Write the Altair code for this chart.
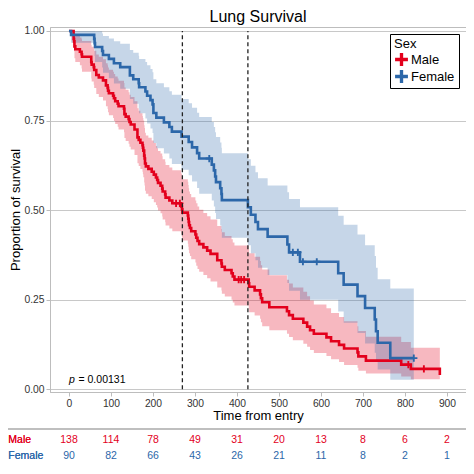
import altair as alt
import pandas as pd

RED = "#E3001C"
BLUE = "#2C67A9"
FONT = "Liberation Sans"
GRAY = "#BDBDBD"

# ---- Kaplan-Meier estimates ----
male_time = [0, 11, 12, 13, 15, 26, 30, 31, 53, 54,
             59, 60, 65, 71, 81, 88, 92, 93, 95, 105,
             107, 110, 116, 118, 131, 132, 135, 142, 144, 147,
             156, 163, 166, 170, 175, 176, 177, 179, 180, 181,
             183, 189, 197, 202, 207, 210, 212, 218, 222, 223,
             229, 230, 239, 246, 267, 269, 270, 283, 284, 285,
             286, 288, 291, 301, 303, 306, 310, 320, 329, 337,
             353, 363, 364, 371, 387, 390, 394, 428, 429, 442,
             455, 457, 460, 477, 519, 524, 533, 558, 567, 574,
             583, 613, 624, 643, 655, 687, 689, 707, 791, 814,
             883]
male_surv = [1.000, .978, .971, .957, .949, .942, .935, .928, .913, .906,
             .899, .891, .877, .870, .862, .848, .841, .833, .826, .819,
             .812, .804, .797, .790, .783, .768, .761, .754, .746, .739,
             .725, .703, .696, .688, .681, .674, .666, .652, .644, .630,
             .622, .615, .607, .599, .591, .584, .576, .568, .560, .552,
             .544, .535, .527, .519, .510, .502, .493, .485, .476, .467,
             .458, .450, .441, .432, .423, .414, .405, .396, .387, .378,
             .360, .351, .342, .333, .324, .315, .306, .296, .286, .276,
             .265, .254, .243, .229, .218, .207, .197, .186, .175, .165,
             .155, .145, .134, .124, .114, .103, .092, .080, .069, .057,
             .040]
male_lower = [1.000, .954, .943, .924, .913, .904, .895, .886, .867, .859,
              .850, .841, .824, .816, .806, .790, .782, .773, .765, .757,
              .749, .740, .733, .725, .717, .701, .693, .685, .677, .669,
              .654, .631, .623, .615, .607, .600, .592, .577, .569, .554,
              .546, .539, .531, .522, .514, .507, .499, .491, .482, .474,
              .466, .457, .449, .441, .432, .424, .415, .406, .398, .389,
              .380, .372, .363, .354, .345, .336, .328, .319, .310, .301,
              .284, .276, .267, .259, .250, .242, .234, .224, .215, .206,
              .197, .187, .176, .165, .155, .146, .137, .127, .119, .110,
              .101, .093, .084, .076, .068, .060, .052, .044, .036, .028,
              .016]
male_upper = [1.000, 1.000, .999, .992, .986, .982, .977, .972, .961, .956,
              .951, .945, .934, .928, .921, .910, .904, .898, .892, .886,
              .880, .873, .867, .861, .855, .842, .836, .829, .822, .816,
              .804, .784, .777, .770, .763, .757, .750, .737, .729, .716,
              .708, .702, .694, .687, .679, .673, .665, .658, .650, .642,
              .635, .626, .619, .611, .602, .595, .586, .579, .570, .561,
              .552, .545, .536, .527, .519, .510, .501, .492, .483, .474,
              .456, .447, .438, .428, .419, .410, .401, .390, .380, .370,
              .358, .346, .334, .318, .306, .295, .284, .272, .260, .248,
              .237, .226, .213, .202, .190, .176, .163, .147, .132, .116,
              .099]

female_time = [0, 5, 60, 61, 62, 79, 81, 95, 107, 122,
               145, 153, 166, 167, 182, 186, 194, 199, 201, 208,
               226, 239, 245, 268, 285, 293, 305, 310, 340, 345,
               348, 350, 360, 363, 364, 426, 433, 444, 450, 473,
               520, 524, 550, 641, 654, 687, 705, 728, 731, 735,
               765, 821]
female_surv = [1.000, .989, .978, .966, .955, .944, .933, .922, .910, .899,
               .876, .865, .854, .843, .831, .819, .807, .795, .771, .758,
               .745, .732, .719, .705, .690, .675, .659, .644, .627, .611,
               .594, .578, .561, .545, .528, .508, .487, .467, .447, .426,
               .404, .382, .356, .324, .292, .260, .227, .195, .162, .130,
               .087, .087]
female_lower = [1.000, .967, .948, .930, .913, .898, .883, .868, .853, .839,
                .810, .797, .784, .770, .756, .742, .728, .715, .687, .673,
                .658, .644, .629, .613, .597, .580, .562, .546, .527, .510,
                .492, .475, .457, .440, .423, .402, .380, .360, .339, .319,
                .297, .275, .250, .217, .186, .157, .128, .102, .077, .055,
                .027, .027]
female_upper = [1.000, 1.000, 1.000, 1.000, .999, .993, .986, .979, .971, .964,
                .947, .939, .931, .922, .913, .904, .894, .885, .865, .854,
                .843, .832, .822, .810, .798, .786, .772, .760, .746, .732,
                .717, .704, .689, .674, .659, .642, .624, .606, .589, .569,
                .550, .531, .508, .484, .459, .432, .402, .372, .339, .307,
                .281, .281]

# censoring marks
male_censor_time = [255, 264, 404, 410, 417, 808, 845]
male_censor_surv = [.519, .519, .306, .306, .306, .069, .057]
female_censor_time = [334, 533, 545, 557, 590, 821]
female_censor_surv = [.644, .382, .382, .356, .356, .087]

# median survival times
median_time = [270, 426]

# number at risk table
risk_time = [0, 100, 200, 300, 400, 500, 600, 700, 800, 900]
male_risk = [138, 114, 78, 49, 31, 20, 13, 8, 6, 2]
female_risk = [90, 82, 66, 43, 26, 21, 11, 8, 2, 1]

groups = ["Male", "Female"]
colors = [RED, BLUE]

male_curve = pd.DataFrame({"time": male_time, "surv": male_surv,
                           "lower": male_lower, "upper": male_upper})
female_curve = pd.DataFrame({"time": female_time, "surv": female_surv,
                             "lower": female_lower, "upper": female_upper})

censor = pd.concat([
    pd.DataFrame({"time": male_censor_time, "surv": male_censor_surv, "group": "Male"}),
    pd.DataFrame({"time": female_censor_time, "surv": female_censor_surv, "group": "Female"}),
], ignore_index=True)

medians = pd.DataFrame({"time": median_time})
male_tab = pd.DataFrame({"time": risk_time, "n": male_risk})
female_tab = pd.DataFrame({"time": risk_time, "n": female_risk})
pval = pd.DataFrame({"time": [0], "surv": [0.017]})

W, H = 416, 365
xscale = alt.Scale(domain=[-45.2, 945.3], nice=False, zero=False)
yscale = alt.Scale(domain=[-0.0075, 1.011], nice=False, zero=False)
PLUS = "M-1,-0.26H1V0.26H-1Z M-0.26,-1H0.26V1H-0.26Z"

X = alt.X("time:Q", scale=xscale,
          axis=alt.Axis(values=risk_time, format="d", title="Time from entry",
                        grid=False, tickSize=4, labelPadding=2, titlePadding=1))
Y = alt.Y("surv:Q", scale=yscale,
          axis=alt.Axis(values=[0, 0.25, 0.5, 0.75, 1.0], format=".2f",
                        title="Proportion of survival", grid=True,
                        tickSize=4, labelPadding=2, titlePadding=1))
Xs = alt.X("time:Q", scale=xscale)
Ys = alt.Y("surv:Q", scale=yscale)


def band(df, col, op):
    return alt.Chart(df).mark_area(interpolate="step-after", opacity=op, color=col).encode(
        x=X, y=alt.Y("lower:Q", scale=yscale), y2="upper:Q")


def curve_line(df, col):
    return alt.Chart(df).mark_line(interpolate="step-after", strokeWidth=2.6, color=col).encode(
        x=Xs, y=Y)


marks = alt.Chart(censor).mark_point(shape=PLUS, filled=True, size=52, opacity=1).encode(
    x=Xs, y=Ys,
    color=alt.Color("group:N", scale=alt.Scale(domain=groups, range=colors),
                    legend=alt.Legend(title="Sex", orient="top-right", offset=7,
                                      strokeColor="black", fillColor="white", padding=4,
                                      symbolType=PLUS, symbolSize=165, symbolOpacity=1,
                                      titleFontSize=13, titleFontWeight="normal",
                                      titleColor="black", titleFont=FONT, titlePadding=1,
                                      labelFontSize=13, labelColor="black", labelFont=FONT,
                                      labelOffset=2, rowPadding=2, cornerRadius=0)),
)

rules = alt.Chart(medians).mark_rule(strokeDash=[4, 3], strokeWidth=1.3, color="#222222").encode(
    x=Xs, y=alt.datum(0, scale=yscale), y2=alt.datum(1),
)

p1 = alt.Chart(pval).mark_text(text="p", align="left", baseline="alphabetic",
                               fontStyle="italic", fontSize=10.5, font=FONT,
                               color="black").encode(x=Xs, y=Ys)
p2 = alt.Chart(pval).mark_text(text="= 0.00131", align="left", baseline="alphabetic",
                               dx=9.5, fontSize=10.5, font=FONT,
                               color="black").encode(x=Xs, y=Ys)

sep = alt.Chart(medians).mark_rule(color="#AAAAAA", strokeWidth=1.2).encode(
    x=alt.value(-42), x2=alt.value(W), y=alt.value(402))

mt = alt.Chart(male_tab).mark_text(fontSize=10.5, font=FONT, color=RED, baseline="middle").encode(
    x=Xs, y=alt.value(413), text="n:Q")
ft = alt.Chart(female_tab).mark_text(fontSize=10.5, font=FONT, color=BLUE, baseline="middle").encode(
    x=Xs, y=alt.value(428.5), text="n:Q")
ml = alt.Chart(medians).mark_text(text="Male", align="left", fontSize=10.5, font=FONT,
                                  color=RED, baseline="middle").encode(
    x=alt.value(-41.7), y=alt.value(413))
fl = alt.Chart(medians).mark_text(text="Female", align="left", fontSize=10.5, font=FONT,
                                  color=BLUE, baseline="middle").encode(
    x=alt.value(-41.7), y=alt.value(428.5))

chart = alt.layer(
    band(male_curve, RED, 0.28), band(female_curve, BLUE, 0.27),
    curve_line(male_curve, RED), curve_line(female_curve, BLUE),
    marks, rules, p1, p2, sep, mt, ft, ml, fl,
).properties(
    width=W, height=H,
    title=alt.TitleParams("Lung Survival", fontSize=16, font=FONT, fontWeight="normal",
                          color="black", anchor="middle", frame="group", offset=0.5),
    autosize=alt.AutoSizeParams(type="none"),
    padding={"left": 42, "top": 19, "right": 0, "bottom": 67},
).configure_view(
    stroke=GRAY, strokeWidth=1,
).configure_axis(
    labelFont=FONT, titleFont=FONT, labelFontSize=10.3, titleFontSize=13,
    labelColor="#333333", titleColor="black", titleFontWeight="normal",
    domainColor=GRAY, tickColor=GRAY, gridColor="#C8C8C8", gridWidth=1,
)

chart.save("out.html", embed_options={"renderer": "svg", "actions": False})
